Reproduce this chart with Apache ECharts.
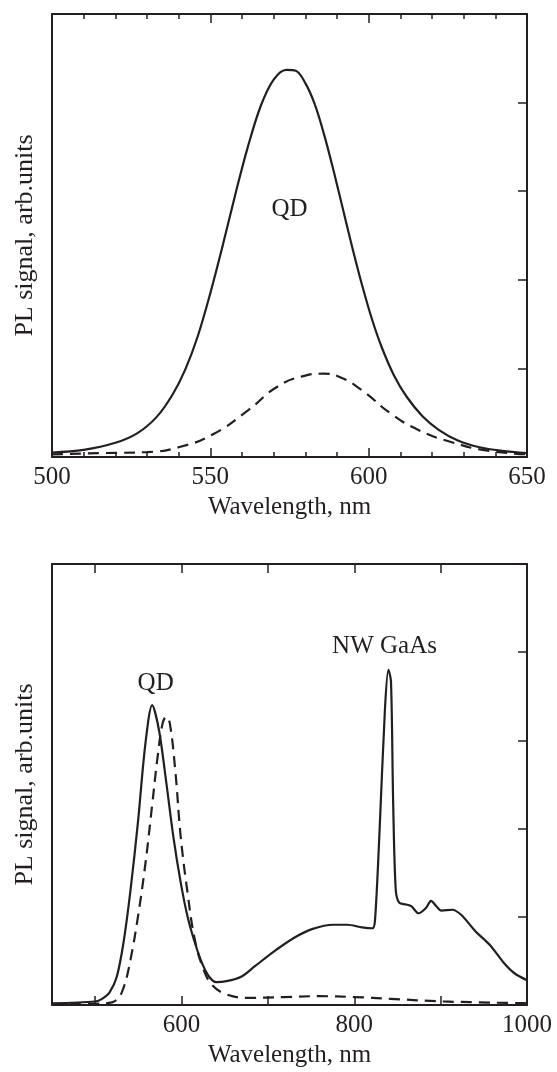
<!DOCTYPE html>
<html>
<head>
<meta charset="utf-8">
<script src="https://cdn.jsdelivr.net/npm/echarts@6/dist/echarts.min.js"></script>
<style>
html, body { margin: 0; padding: 0; background: #fff; }
#chart { width: 557px; height: 1072px; }
</style>
</head>
<body>
<div id="chart"></div>
<script>
// 上图：QD 的 PL 光谱（实线 / 虚线）
var top_wl_solid = [500, 510, 520, 527, 533, 538, 542, 546, 550, 554, 558, 562, 566, 570, 574, 577, 580, 583, 586, 589, 592, 595, 598, 601, 604, 608, 612, 617, 622, 628, 635, 642, 650];
var top_pl_solid = [0.05, 0.08, 0.16, 0.27, 0.45, 0.70, 0.98, 1.36, 1.85, 2.40, 2.98, 3.52, 3.97, 4.26, 4.37, 4.36, 4.22, 3.98, 3.63, 3.22, 2.78, 2.34, 1.93, 1.56, 1.25, 0.92, 0.68, 0.46, 0.31, 0.19, 0.11, 0.07, 0.045];
var top_wl_dash = [500, 517, 530, 540, 551, 562, 571, 579, 585.5, 591, 598, 607, 616, 626, 637, 650];
var top_pl_dash = [0.03, 0.045, 0.056, 0.11, 0.26, 0.53, 0.79, 0.91, 0.94, 0.90, 0.75, 0.49, 0.30, 0.17, 0.075, 0.03];

// 下图：QD + NW GaAs
var bot_wl_solid = [450, 500, 508, 516.5, 525, 533, 541, 549.5, 558, 566, 574, 582.5, 590.5, 599, 607, 615, 623.5, 632, 640, 652, 669, 685, 706, 730, 751, 776, 792, 809, 821, 824, 829, 835.5, 839.5, 842.5, 845, 848, 852, 860, 866, 874.5, 883, 889, 895, 901, 913.5, 924, 940, 957, 973, 985.5, 1000];
var bot_pl_solid = [0.02, 0.04, 0.07, 0.14, 0.32, 0.72, 1.31, 2.07, 2.95, 3.40, 3.11, 2.51, 1.91, 1.39, 1.00, 0.72, 0.48, 0.32, 0.26, 0.27, 0.32, 0.44, 0.60, 0.76, 0.86, 0.91, 0.91, 0.88, 0.87, 0.96, 1.91, 3.35, 3.80, 3.67, 2.31, 1.31, 1.16, 1.14, 1.12, 1.04, 1.10, 1.18, 1.12, 1.07, 1.08, 1.02, 0.84, 0.68, 0.48, 0.36, 0.28];
var bot_wl_dash = [450, 512.5, 525, 533, 541, 549.5, 558, 566, 572, 578, 582.5, 586.5, 593, 599, 607, 615, 625.5, 636, 652, 677, 718, 759, 800, 842, 903, 1000];
var bot_pl_dash = [0.01, 0.02, 0.06, 0.20, 0.52, 1.00, 1.59, 2.27, 2.79, 3.19, 3.27, 3.19, 2.63, 1.91, 1.27, 0.76, 0.40, 0.22, 0.12, 0.08, 0.09, 0.10, 0.09, 0.07, 0.04, 0.02];

// 标注文字
var top_labels = [{ name: "QD", coord: [575, 2.79] }];
var bot_labels = [{ name: "QD", coord: [570, 3.65] }, { name: "NW GaAs", coord: [835, 4.06] }];

var ink = "#231f20";
var font = "Liberation Serif";
var fsize = 25;

function pairs(xs, ys){
	// 把两个数组拼成 [x, y] 点列
	var out = [];
	for(var i = 0; i < xs.length; i++){
		out.push([xs[i], ys[i]]);
	}
	return out;
}

function line_series(grid_idx, xs, ys, dashed, smooth, labels){
	var s = {
		type: "line",
		xAxisIndex: grid_idx * 2,
		yAxisIndex: grid_idx * 2,
		data: pairs(xs, ys),
		symbol: "none",
		smooth: smooth,
		lineStyle: { color: ink, width: 2.2, type: dashed ? [11, 7] : "solid" },
		z: 3
	};
	if(labels){
		s.markPoint = {
			symbol: "circle",
			symbolSize: 0,
			label: { show: true, position: "inside", formatter: function(p){ return p.name; }, color: ink, fontFamily: font, fontSize: fsize },
			data: labels
		};
	}
	return s;
}

function x_axis(grid_idx, pos, cfg){
	var a = {
		type: "value",
		gridIndex: grid_idx,
		position: pos,
		min: cfg.min,
		max: cfg.max,
		splitLine: { show: false },
		axisLine: { show: true, onZero: false, lineStyle: { color: ink, width: 2 } },
		axisTick: { show: true, inside: true, length: 9, lineStyle: { color: ink, width: 1.5 } },
		axisLabel: { show: pos == "bottom", color: ink, fontFamily: font, fontSize: fsize, margin: 8,
			formatter: function(v){ return String(v); } }
	};
	if(cfg.interval){
		a.interval = cfg.interval;
	}
	if(cfg.minor){
		a.minorTick = { show: true, splitNumber: cfg.minor, length: 5, lineStyle: { color: ink, width: 1.5 } };
	}
	if(cfg.tick_values){
		a.axisTick.customValues = cfg.tick_values;
	}
	if(cfg.label_values){
		a.axisLabel.customValues = cfg.label_values;
	}
	if(pos == "bottom"){
		a.name = "Wavelength, nm";
		a.nameLocation = "middle";
		a.nameGap = 38;
		a.nameTextStyle = { color: ink, fontFamily: font, fontSize: fsize };
	}
	return a;
}

function y_axis(grid_idx, pos){
	var a = {
		type: "value",
		gridIndex: grid_idx,
		position: pos,
		min: 0,
		max: 5,
		interval: 1,
		splitLine: { show: false },
		axisLine: { show: true, onZero: false, lineStyle: { color: ink, width: 2 } },
		axisTick: { show: pos == "right", inside: true, length: 9, lineStyle: { color: ink, width: 1.5 } },
		axisLabel: { show: false }
	};
	if(pos == "left"){
		a.name = "PL signal, arb.units";
		a.nameLocation = "middle";
		a.nameGap = 14;
		a.nameTextStyle = { color: ink, fontFamily: font, fontSize: 26 };
	}
	return a;
}

var top_cfg = { min: 500, max: 650, interval: 50, minor: 5 };
var bot_cfg = { min: 450, max: 1000, tick_values: [500, 600, 700, 800, 900], label_values: [600, 800, 1000] };

var myChart = echarts.init(document.getElementById("chart"), null, { renderer: "canvas" });
var option = {
	animation: false,
	backgroundColor: "#fff",
	grid: [
		{ left: 52, top: 14, width: 475, height: 443 },
		{ left: 52, top: 564, width: 475, height: 441 }
	],
	xAxis: [
		x_axis(0, "bottom", top_cfg),
		x_axis(0, "top", top_cfg),
		x_axis(1, "bottom", bot_cfg),
		x_axis(1, "top", bot_cfg)
	],
	yAxis: [
		y_axis(0, "left"),
		y_axis(0, "right"),
		y_axis(1, "left"),
		y_axis(1, "right")
	],
	series: [
		line_series(0, top_wl_solid, top_pl_solid, false, 0.35, top_labels),
		line_series(0, top_wl_dash, top_pl_dash, true, 0.5, null),
		line_series(1, bot_wl_solid, bot_pl_solid, false, 0.3, bot_labels),
		line_series(1, bot_wl_dash, bot_pl_dash, true, 0.4, null)
	]
};
myChart.setOption(option);
</script>
</body>
</html>
